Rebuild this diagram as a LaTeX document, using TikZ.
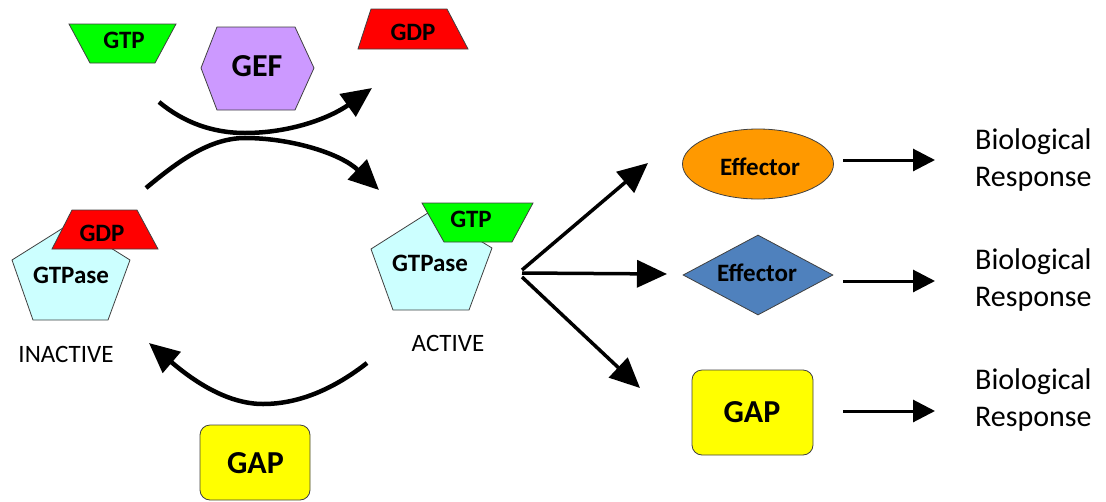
\documentclass[tikz,border=0pt]{standalone}
\usepackage{fontspec}
\setmainfont{Carlito}
\usetikzlibrary{shapes.geometric,arrows.meta}
\definecolor{gtpgreen}{HTML}{00FF00}
\definecolor{gdpred}{HTML}{FF0000}
\definecolor{geflav}{HTML}{CC99FF}
\definecolor{gtpasecyan}{HTML}{CCFFFF}
\definecolor{efforange}{HTML}{FF9900}
\definecolor{effblue}{HTML}{4F81BD}
\definecolor{gapyellow}{HTML}{FFFF00}
\begin{document}
\begin{tikzpicture}[x=1pt,y=-1pt,
  shp/.style={draw=black!75,line width=0.8pt},
  lbl/.style={anchor=base,inner sep=0pt,font=\fontsize{25}{30}\selectfont\bfseries},
  biglbl/.style={anchor=base,inner sep=0pt,font=\fontsize{32}{38}\selectfont\bfseries},
  captxt/.style={anchor=base,inner sep=0pt,font=\fontsize{25}{30}\selectfont},
  resptxt/.style={anchor=base west,inner sep=0pt,font=\fontsize{30}{36}\selectfont},
  cyclearrow/.style={line width=4.5pt,-{Triangle[length=30pt,width=27pt]}},
  fanarrow/.style={line width=3.5pt,-{Triangle[length=30pt,width=27pt]}},
  resparrow/.style={line width=3pt,-{Triangle[length=22pt,width=22pt]}}]
\useasboundingbox (0,0) rectangle (1106,501);

% ---- top: GTP, GEF, GDP
\draw[shp,fill=gtpgreen] (69,24) -- (176,24) -- (155,63) -- (90,63) -- cycle;
\node[lbl] (gtpfree) at (124,48) {GTP};
\draw[shp,fill=geflav] (201,68) -- (217,27) -- (295,27) -- (314,68) -- (295,110) -- (217,110) -- cycle;
\node[biglbl] (gef) at (257,76) {GEF};
\draw[shp,fill=gdpred] (371,9) -- (447,9) -- (468,49) -- (358,49) -- cycle;
\node[lbl] (gdpfree) at (413,40) {GDP};

% ---- inactive GTPase
\draw[shp,fill=gtpasecyan] (71,223) -- (130,260) -- (108,320) -- (33,320) -- (12,260) -- cycle;
\node[lbl] (gtpasei) at (71,283) {GTPase};
\draw[shp,fill=gdpred] (72,210) -- (137,210) -- (158,249) -- (52,249) -- cycle;
\node[lbl] (gdpi) at (102,241) {GDP};
\node[captxt] (inactive) at (66,362) {INACTIVE};

% ---- active GTPase
\draw[shp,fill=gtpasecyan] (431,211) -- (492,248) -- (469,310) -- (393,310) -- (371,249) -- cycle;
\node[lbl] (gtpasea) at (430,271) {GTPase};
\draw[shp,fill=gtpgreen] (422,203) -- (533,203) -- (512,242) -- (444,242) -- cycle;
\node[lbl] (gtpa) at (471,227) {GTP};
\node[captxt] (active) at (448,351) {ACTIVE};

% ---- cycle arrows
\coordinate (a1s) at (159,102);
\coordinate (a1m) at (245,133);
\coordinate (a1e) at (372,88);
\coordinate (a2s) at (146,188);
\coordinate (a2m) at (245,138);
\coordinate (a2e) at (379,190);
\coordinate (a3s) at (367,363);
\coordinate (a3m) at (263,404);
\coordinate (a3e) at (149,343);
\draw[cyclearrow] (a1s) .. controls (183,122) and (212,133) .. (a1m)
                        .. controls (290,133) and (330,118) .. (a1e);
\draw[cyclearrow] (a2s) .. controls (175,164) and (208,138) .. (a2m)
                        .. controls (290,138) and (340,153) .. (a2e);
\draw[cyclearrow] (a3s) .. controls (335,388) and (300,404) .. (a3m)
                        .. controls (225,404) and (190,378) .. (a3e);

% ---- bottom GAP
\node[shp,rectangle,rounded corners=10pt,fill=gapyellow,minimum width=110pt,minimum height=75pt,inner sep=0pt] (gapb) at (255,462.5) {};
\node[biglbl] (gapbtxt) at (255.5,473) {GAP};

% ---- effectors
\node[shp,ellipse,fill=efforange,minimum width=151pt,minimum height=70pt,inner sep=0pt] (eff1) at (758,164) {};
\node[lbl] (eff1txt) at (760,175) {Effector};
\node[shp,diamond,fill=effblue,minimum width=150pt,minimum height=80pt,inner sep=0pt] (eff2) at (758,275) {};
\node[lbl] (eff2txt) at (757,281) {Effector};
\node[shp,rectangle,rounded corners=10pt,fill=gapyellow,minimum width=121pt,minimum height=85pt,inner sep=0pt] (gapr) at (752.5,412.5) {};
\node[biglbl] (gaprtxt) at (752,422) {GAP};

% ---- fan arrows
\coordinate (fan1) at (522,270);
\coordinate (fan2) at (522,273);
\coordinate (fan3) at (522,277);
\coordinate (t1) at (648,163);
\coordinate (t2) at (667,274);
\coordinate (t3) at (640,388);
\draw[fanarrow] (fan1) -- (t1);
\draw[fanarrow] (fan2) -- (t2);
\draw[fanarrow] (fan3) -- (t3);

% ---- responses
\node[resptxt] (bio1) at (975,149) {Biological};
\node[resptxt] (res1) at (975,186) {Response};
\node[resptxt] (bio2) at (975,269) {Biological};
\node[resptxt] (res2) at (975,306) {Response};
\node[resptxt] (bio3) at (975,389) {Biological};
\node[resptxt] (res3) at (975,426) {Response};

\coordinate (r1s) at (843,160);
\coordinate (r1e) at (935,160);
\coordinate (r2s) at (843,281);
\coordinate (r2e) at (935,281);
\coordinate (r3s) at (843,411);
\coordinate (r3e) at (935,411);
\draw[resparrow] (r1s) -- (r1e);
\draw[resparrow] (r2s) -- (r2e);
\draw[resparrow] (r3s) -- (r3e);
\end{tikzpicture}
\end{document}
